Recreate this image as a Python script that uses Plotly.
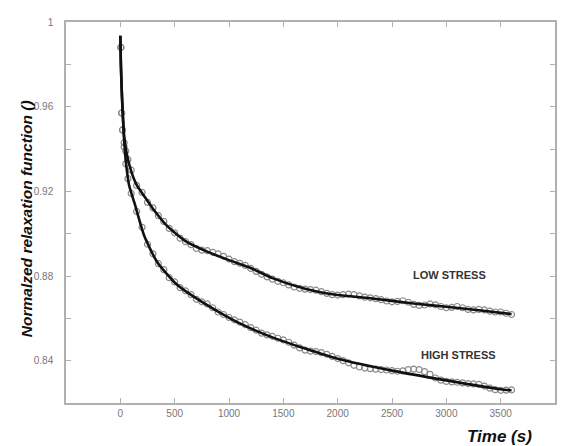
import plotly.graph_objects as go

# ---- fitted curves (black lines) ----
fit_t_low = [0, 5, 15, 35, 60, 100, 150, 220, 300, 430, 600, 800, 1000, 1200, 1400,
             1700, 2000, 2300, 2700, 3000, 3300, 3600]
fit_low = [0.9935, 0.980, 0.965, 0.946, 0.9375, 0.9295, 0.9230, 0.9177, 0.9118, 0.9037,
           0.8965, 0.8915, 0.8875, 0.8838, 0.8790, 0.8740, 0.8710, 0.8695, 0.8670,
           0.8655, 0.8638, 0.8620]

fit_t_high = [0, 5, 15, 35, 55, 80, 130, 220, 340, 520, 700, 900, 1100, 1400, 1700,
              2000, 2500, 3000, 3500, 3600]
fit_high = [0.9935, 0.980, 0.965, 0.944, 0.932, 0.923, 0.9145, 0.8990, 0.8865, 0.8760,
            0.8694, 0.8632, 0.8576, 0.8510, 0.8457, 0.8409, 0.8353, 0.8307, 0.8265, 0.8260]

# ---- measured data (grey open circles) ----
data_t = [5, 12, 20, 35, 50, 70] + list(range(100, 3601, 50))

data_low = [0.988, 0.957, 0.949, 0.943, 0.939, 0.935,
            0.9300, 0.9228, 0.9195, 0.9148, 0.9122, 0.9085, 0.9058, 0.9025, 0.9004, 0.8978,
            0.8962, 0.8948, 0.8930, 0.8922, 0.8920, 0.8912, 0.8905, 0.8893, 0.8880, 0.8868,
            0.8860, 0.8850, 0.8836, 0.8822, 0.8808, 0.8796, 0.8785, 0.8775, 0.8768, 0.8758,
            0.8748, 0.8742, 0.8738, 0.8736, 0.8733, 0.8726, 0.8718, 0.8712, 0.8710, 0.8712,
            0.8714, 0.8712, 0.8706, 0.8700, 0.8697, 0.8693, 0.8688, 0.8682, 0.8678, 0.8680,
            0.8683, 0.8676, 0.8666, 0.8661, 0.8663, 0.8668, 0.8664, 0.8656, 0.8650, 0.8652,
            0.8656, 0.8650, 0.8642, 0.8640, 0.8642, 0.8640, 0.8634, 0.8630, 0.8630, 0.8624,
            0.8618]

data_high = [0.988, 0.957, 0.949, 0.941, 0.933, 0.926,
             0.9190, 0.9105, 0.9030, 0.8950, 0.8905, 0.8858, 0.8830, 0.8792, 0.8772, 0.8745,
             0.8730, 0.8712, 0.8690, 0.8678, 0.8668, 0.8650, 0.8630, 0.8618, 0.8604, 0.8593,
             0.8582, 0.8570, 0.8556, 0.8544, 0.8530, 0.8522, 0.8515, 0.8506, 0.8498, 0.8487,
             0.8473, 0.8460, 0.8450, 0.8445, 0.8443, 0.8438, 0.8430, 0.8420, 0.8410, 0.8400,
             0.8390, 0.8378, 0.8370, 0.8365, 0.8362, 0.8360, 0.8358, 0.8356, 0.8353, 0.8350,
             0.8352, 0.8358, 0.8360, 0.8358, 0.8348, 0.8335, 0.8318, 0.8308, 0.8302, 0.8300,
             0.8298, 0.8295, 0.8292, 0.8290, 0.8288, 0.8280, 0.8270, 0.8263, 0.8260, 0.8261,
             0.8262]

x_ticks = [0, 500, 1000, 1500, 2000, 2500, 3000, 3500, 4000]
x_labels = ["0", "500", "1000", "1500", "2000", "2500", "3000", "3500", "4000"]
y_ticks = [0.84, 0.86, 0.88, 0.90, 0.92, 0.94, 0.96, 0.98, 1.0]
y_labels = ["0.84", "", "0.88", "", "0.92", "", "0.96", "", "1"]

FONT = "Liberation Sans, Arial, sans-serif"
GRID = "#b0b0b0"

fig = go.Figure()
for y in (data_low, data_high):
    fig.add_trace(go.Scatter(x=data_t, y=y, mode="markers",
                             marker=dict(symbol="circle-open", size=6, color="#8a8a8a",
                                         line=dict(width=1.2)),
                             showlegend=False, hoverinfo="skip"))
for t, y in ((fit_t_low, fit_low), (fit_t_high, fit_high)):
    fig.add_trace(go.Scatter(x=t, y=y, mode="lines",
                             line=dict(color="#111111", width=2.6, shape="spline", smoothing=0.6),
                             showlegend=False))

fig.add_annotation(x=3033, y=0.8805, text="<b>LOW STRESS</b>", showarrow=False,
                   font=dict(family=FONT, size=11, color="#333333"))
fig.add_annotation(x=3115, y=0.8428, text="<b>HIGH STRESS</b>", showarrow=False,
                   font=dict(family=FONT, size=11, color="#333333"))
fig.add_annotation(xref="paper", yref="paper", x=-0.0794, y=0.483,
                   xanchor="center", yanchor="middle",
                   text="<b><i>Normalzed relaxation function ()</i></b>", textangle=-90,
                   showarrow=False, font=dict(family=FONT, size=15.5, color="#111111"))
fig.add_annotation(xref="paper", yref="paper", x=0.957, y=-0.088,
                   xanchor="right", yanchor="middle",
                   text="<b><i>Time (s)</i></b>", showarrow=False,
                   font=dict(family=FONT, size=17, color="#111111"))

# the page places the figure 8 px from its top-left corner
fig.update_layout(
    width=557, height=438,
    margin=dict(l=58, r=8, t=8, b=43),
    paper_bgcolor="white", plot_bgcolor="white",
    xaxis=dict(range=[-500, 4000], tickvals=x_ticks, ticktext=x_labels,
               showgrid=False, zeroline=False, showline=True, linecolor=GRID, linewidth=1.5,
               mirror="ticks", ticks="inside", ticklen=5, tickcolor=GRID,
               tickfont=dict(family=FONT, size=10, color="#777777")),
    yaxis=dict(range=[0.82, 1.0], tickvals=y_ticks, ticktext=y_labels,
               showgrid=False, zeroline=False, showline=True, linecolor=GRID, linewidth=1.5,
               mirror="ticks", ticks="inside", ticklen=5, tickcolor=GRID,
               ticklabelstandoff=9,
               tickfont=dict(family=FONT, size=10, color="#777777")),
)

fig.write_html("out.html")
